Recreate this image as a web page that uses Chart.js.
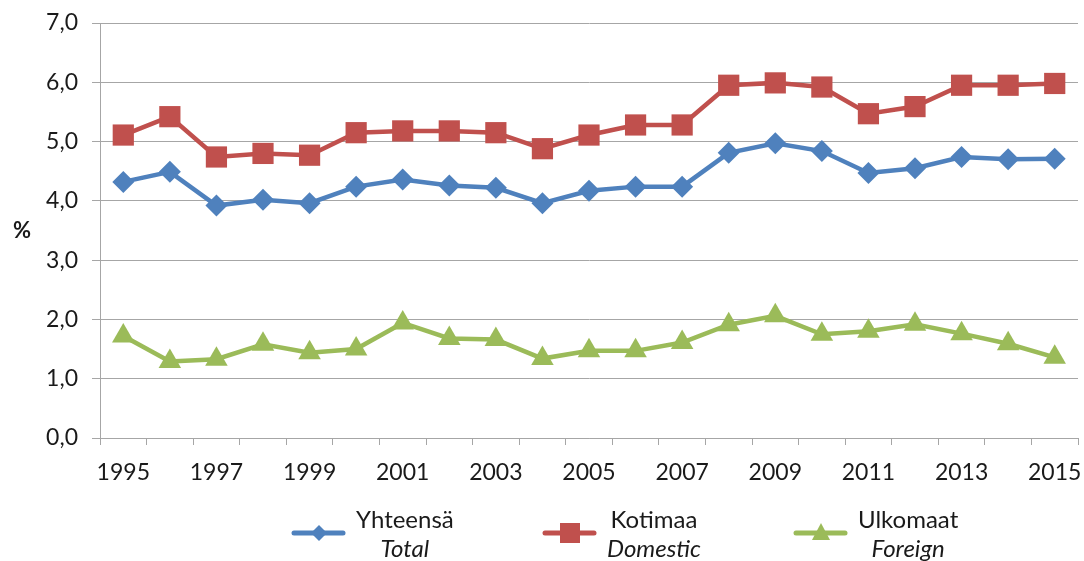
<!DOCTYPE html>
<html>
<head>
<meta charset="utf-8">
<script src="https://cdn.jsdelivr.net/npm/chart.js@4"></script>
<style>
  html, body { margin: 0; padding: 0; background: #fff; }
  #wrap { position: relative; width: 1084px; height: 561px; }
  #legend { position: absolute; left: 291px; top: 504px; display: flex; font-family: Lato, sans-serif; font-size: 24px; color: #1a1a1a; }
  #legend .item { width: 251px; display: flex; align-items: center; }
  #legend .txt { text-align: center; line-height: 29px; margin-left: 10px; }
  #legend .txt i { display: block; }
</style>
</head>
<body>
<div id="wrap">
  <canvas id="chart" width="1084" height="561"></canvas>
  <div id="legend"></div>
</div>
<script>
const years = ['1995', '1996', '1997', '1998', '1999', '2000', '2001', '2002', '2003', '2004', '2005',
               '2006', '2007', '2008', '2009', '2010', '2011', '2012', '2013', '2014', '2015'];
const seriesNamesFi = ['Yhteensä', 'Kotimaa', 'Ulkomaat'];
const seriesNamesEn = ['Total', 'Domestic', 'Foreign'];
const total    = [4.32, 4.49, 3.92, 4.02, 3.96, 4.24, 4.36, 4.26, 4.22, 3.96, 4.17, 4.24, 4.24, 4.81, 4.97, 4.84, 4.47, 4.55, 4.74, 4.70, 4.71];
const domestic = [5.11, 5.42, 4.74, 4.80, 4.77, 5.15, 5.18, 5.18, 5.15, 4.88, 5.11, 5.28, 5.28, 5.95, 5.99, 5.92, 5.47, 5.59, 5.95, 5.95, 5.98];
const foreign  = [1.72, 1.29, 1.33, 1.58, 1.44, 1.50, 1.94, 1.68, 1.66, 1.34, 1.47, 1.47, 1.61, 1.91, 2.06, 1.75, 1.80, 1.92, 1.76, 1.59, 1.36];
const yAxisTitle = '%';

const colors = ['#4f81bd', '#c0504d', '#9bbb59'];
const shapes = ['rectRot', 'rect', 'triangle'];
const radii = [11, 15, 13];
const gridColor = '#a6a6a6';
const textColor = '#1a1a1a';

const datasets = [total, domestic, foreign].map(function (values, i) {
    return {
        label: seriesNamesFi[i],
        data: values,
        borderColor: colors[i],
        backgroundColor: colors[i],
        borderWidth: 4.5,
        pointStyle: shapes[i],
        pointRadius: radii[i],
        pointBorderWidth: 0,
        tension: 0
    };
});

// "%" written upright left of the value axis
const percentTitle = {
    id: 'percentTitle',
    afterDraw: function (chart) {
        const ctx = chart.ctx;
        const area = chart.chartArea;
        ctx.save();
        ctx.font = 'bold 22px Lato, sans-serif';
        ctx.fillStyle = textColor;
        ctx.textAlign = 'center';
        ctx.textBaseline = 'middle';
        ctx.fillText(yAxisTitle, 22, (area.top + area.bottom) / 2);
        ctx.restore();
    }
};

const chart = new Chart(document.getElementById('chart').getContext('2d'), {
    type: 'line',
    data: { labels: years, datasets: datasets },
    plugins: [percentTitle],
    options: {
        responsive: false,
        animation: false,
        layout: { autoPadding: false, padding: { top: 23, right: 6, bottom: 71, left: 0 } },
        plugins: {
            legend: { display: false },
            tooltip: { enabled: false }
        },
        scales: {
            x: {
                offset: true,
                afterFit: function (s) { s.height = 52; s.paddingLeft = 0; s.paddingRight = 0; },
                grid: { drawOnChartArea: false, offset: true, color: gridColor, tickLength: 7 },
                border: { color: gridColor },
                ticks: {
                    autoSkip: false,
                    maxRotation: 0,
                    padding: 14,
                    color: textColor,
                    font: { family: 'Lato, sans-serif', size: 23 },
                    callback: function (v, i) { return i % 2 === 0 ? years[i] : ''; }
                }
            },
            y: {
                min: 0,
                max: 7,
                afterFit: function (s) { s.width = 100; s.paddingTop = 0; s.paddingBottom = 0; },
                grid: { color: gridColor, tickLength: 8 },
                border: { color: gridColor },
                ticks: {
                    stepSize: 1,
                    padding: 14,
                    color: textColor,
                    font: { family: 'Lato, sans-serif', size: 23 },
                    callback: function (v) { return v.toFixed(1).replace('.', ','); }
                }
            }
        }
    }
});

// HTML legend with Finnish name above the italic English one
function markerSvg(i) {
    const c = colors[i];
    let mark = '';
    if (shapes[i] === 'rectRot') mark = `<polygon points="28,2 36,10 28,18 20,10" fill="${c}"/>`;
    else if (shapes[i] === 'rect') mark = `<rect x="18" y="0" width="20" height="20" fill="${c}"/>`;
    else mark = `<polygon points="28,0 37,17 19,17" fill="${c}"/>`;
    return `<svg width="55" height="20"><line x1="3" y1="10" x2="52" y2="10" stroke="${c}" stroke-width="5" stroke-linecap="round"/>${mark}</svg>`;
}

let html = '';
chart.data.datasets.forEach(function (ds, i) {
    html += `<div class="item">${markerSvg(i)}<div class="txt">${ds.label}<i>${seriesNamesEn[i]}</i></div></div>`;
});
document.getElementById('legend').innerHTML = html;
</script>
</body>
</html>
